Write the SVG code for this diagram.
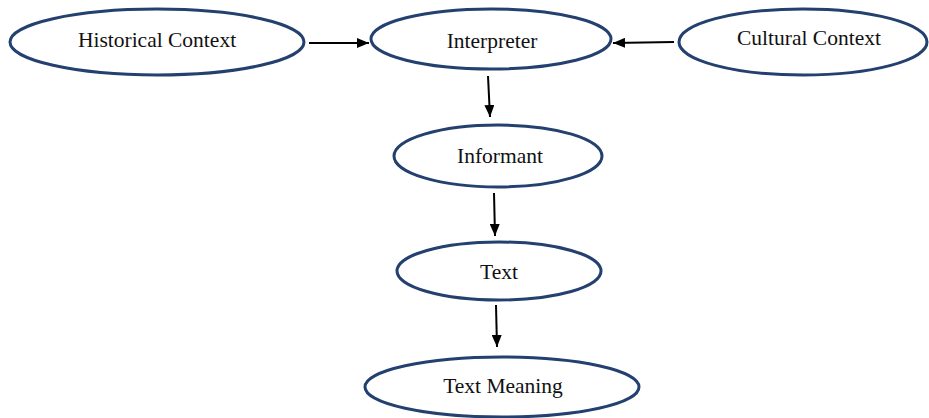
<svg xmlns="http://www.w3.org/2000/svg" width="929" height="418" viewBox="0 0 929 418">
<style>
.n{fill:#fff;stroke:#23406f;stroke-width:3}
.t{font-family:"Liberation Serif","Times New Roman",serif;font-size:21.5px;fill:#111;text-anchor:middle}
.c{stroke:#000;stroke-width:2;fill:none;marker-end:url(#ah)}
</style>
<defs>
<marker id="ah" viewBox="0 0 12 10" refX="12" refY="5" markerWidth="12" markerHeight="10" markerUnits="userSpaceOnUse" orient="auto">
<path d="M0,0 L12,5 L0,10 Z" fill="#000"/>
</marker>
</defs>
<rect width="929" height="418" fill="#fff"/>
<g id="connectors">
<line class="c" x1="309" y1="43" x2="369" y2="43"/>
<line class="c" x1="674" y1="42" x2="613" y2="43"/>
<line class="c" x1="488" y1="76" x2="490" y2="117"/>
<line class="c" x1="494" y1="193" x2="495" y2="236"/>
<line class="c" x1="496" y1="305" x2="497" y2="347"/>
</g>
<g id="historical-context">
<ellipse class="n" cx="157" cy="42" rx="147" ry="33"/>
<text class="t" x="157" y="47">Historical Context</text>
</g>
<g id="interpreter">
<ellipse class="n" cx="491" cy="39" rx="120" ry="30"/>
<text class="t" x="492" y="48">Interpreter</text>
</g>
<g id="cultural-context">
<ellipse class="n" cx="803" cy="42" rx="124" ry="33"/>
<text class="t" x="809" y="45">Cultural Context</text>
</g>
<g id="informant">
<ellipse class="n" cx="498" cy="156" rx="104" ry="31"/>
<text class="t" x="500" y="163">Informant</text>
</g>
<g id="text">
<ellipse class="n" cx="499" cy="271" rx="102" ry="29"/>
<text class="t" x="499" y="279">Text</text>
</g>
<g id="text-meaning">
<ellipse class="n" cx="502" cy="387" rx="137" ry="30"/>
<text class="t" x="503" y="393">Text Meaning</text>
</g>
</svg>
